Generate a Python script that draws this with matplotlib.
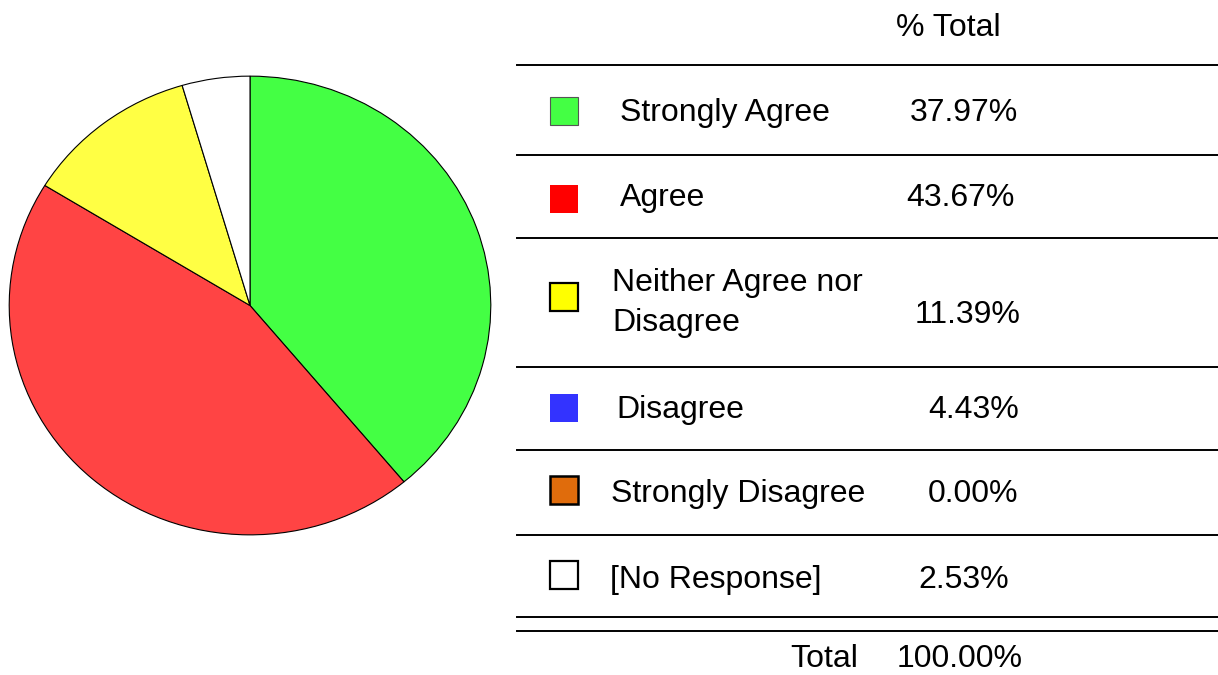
import matplotlib.pyplot as plt
from matplotlib.patches import Rectangle

plt.rcParams['font.family'] = ['Liberation Sans', 'DejaVu Sans']

categories = ['Strongly Agree', 'Agree', 'Neither Agree nor\nDisagree', 'Disagree',
              'Strongly Disagree', '[No Response]']
percent = [37.97, 43.67, 11.39, 4.43, 0.00, 2.53]
total_label = '100.00%'

swatch_colors = ['#44ff44', '#ff0000', '#ffff00', '#3333ff', '#e06c0c', '#ffffff']
swatch_edges = ['#555555', 'none', 'black', 'none', 'black', 'black']
swatch_lw = [0.8, 0, 1.6, 0, 1.8, 1.6]

# pie as drawn in the source: no-response left out, disagree slice left white
pie_vals = percent[:4]
pie_colors = ['#44ff44', '#ff4444', '#ffff44', '#ffffff']

fig = plt.figure(figsize=(12.18, 6.75), dpi=100)

axp = fig.add_axes([8/1218, (675-536)/675, 484/1218, 461/675])
axp.pie(pie_vals, colors=pie_colors, startangle=90, counterclock=False,
        wedgeprops={'edgecolor': 'black', 'linewidth': 0.8})
axp.set_aspect('auto')
axp.set_xlim(-1.005, 1.005)
axp.set_ylim(-1.005, 1.005)

# table drawn in pixel coordinates
ax = fig.add_axes([0, 0, 1, 1])
ax.set_xlim(0, 1218)
ax.set_ylim(675, 0)
ax.axis('off')

fs = 23
ax.text(948, 28, '% Total', ha='center', va='center', fontsize=fs)

for y in [65, 155, 238, 367, 450, 535, 617, 631]:
    ax.plot([517, 1218], [y, y], color='black', lw=1.4)

swatch_y = [111, 199, 297, 408, 490, 575]
label_x = [620, 620, 612, 616, 611, 610]
label_y = [113, 198, 303, 410, 494, 580]
value_x = [910, 906, 915, 928, 928, 918]
value_y = [113, 198, 315, 410, 494, 580]

for i, cat in enumerate(categories):
    ax.add_patch(Rectangle((550, swatch_y[i] - 14), 28, 28, facecolor=swatch_colors[i],
                           edgecolor=swatch_edges[i], lw=swatch_lw[i]))
    ax.text(label_x[i], label_y[i], cat, ha='left', va='center', fontsize=fs,
            linespacing=1.45)
    ax.text(value_x[i], value_y[i], f'{percent[i]:.2f}%', ha='left', va='center',
            fontsize=fs)

ax.text(858, 659, 'Total', ha='right', va='center', fontsize=fs)
ax.text(897, 659, total_label, ha='left', va='center', fontsize=fs)

fig.savefig('out.png', dpi=100)
